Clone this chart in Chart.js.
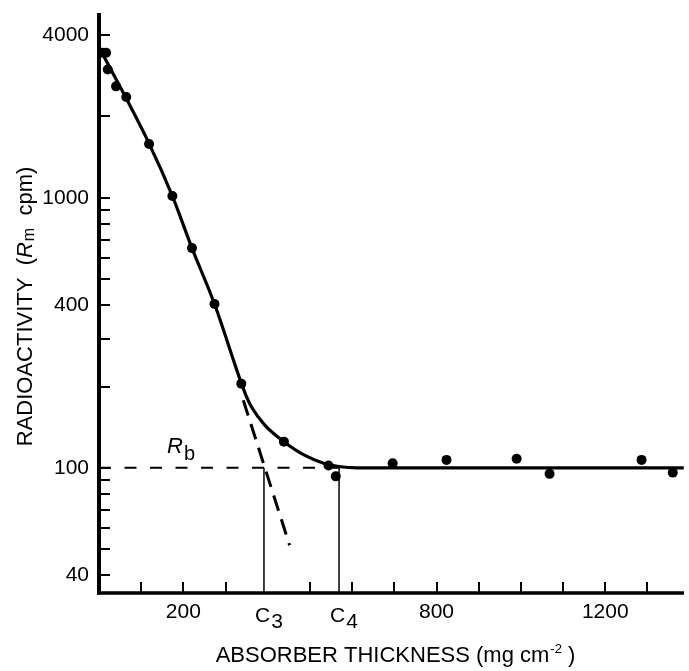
<!DOCTYPE html>
<html><head><meta charset="utf-8">
<script src="https://cdn.jsdelivr.net/npm/chart.js@4/dist/chart.umd.min.js"></script>
<style>html,body{margin:0;padding:0;background:#fff}#wrap{width:689px;height:671px;position:relative}</style>
</head><body><div id="wrap"><canvas id="c"></canvas></div>
<script>
// Measured points: absorber thickness (mg cm^-2) and count rate (cpm)
const thickness = [7.5, 16.9, 20.7, 40.4, 64.6, 118.7, 173.9, 220.4, 273.8, 337.3, 438.3, 544, 561.2, 696, 823.7, 989.9, 1068, 1286, 1360];
const counts    = [3444, 3444, 2985, 2585, 2360, 1581, 1015, 651, 404, 205, 125, 102, 93, 104, 107, 108, 95, 107, 96];
// Hand-drawn absorption curve
const curveX = [0, 118.7, 173.9, 220.4, 273.8, 337.3, 349.1, 361.5, 393, 438.3, 487, 534, 572.3, 612, 1386];
const curveY = [3614, 1587, 1015, 651, 404, 206, 184.3, 168, 144, 125, 111.4, 103.8, 100.9, 100, 100];
// Extrapolated beta part (dashed)
const extrapX = [342, 451.7];
const extrapY = [178, 51.7];
// Background level R_b
const bgLevel = 100;
const bgLineX = [0, 569];
// Ranges C3 and C4
const c3 = 391, c4 = 569;
// Axes
const xMin = 0, xMax = 1386.6;
const yMin = 34.4, yMax = 4831;
const yTickValues = [40, 50, 60, 70, 80, 90, 100, 200, 300, 400, 500, 600, 700, 800, 900, 1000, 2000, 4000];
const yTickLabels = [40, 100, 400, 1000, 4000];
const xTickValues = [100, 200, 300, 500, 600, 700, 800, 900, 1000, 1100, 1200, 1300];
const xTickLabels = [200, 800, 1200];

const F = '"Liberation Sans", Arial, Helvetica, sans-serif';
const BLACK = '#000';

const points = thickness.map((v, i) => ({x: v, y: counts[i]}));
const curve = curveX.map((v, i) => ({x: v, y: curveY[i]}));
const extrap = extrapX.map((v, i) => ({x: v, y: extrapY[i]}));
const bgLine = bgLineX.map(v => ({x: v, y: bgLevel}));
const c3Line = [{x: c3, y: bgLevel}, {x: c3, y: yMin}];
const c4Line = [{x: c4, y: bgLevel}, {x: c4, y: yMin}];

function drawParts(ctx, parts, x, base) {
  let cx = x;
  parts.forEach(p => {
    ctx.font = p.font;
    ctx.fillText(p.t, cx, base + (p.dy || 0));
    cx += ctx.measureText(p.t).width + (p.gap || 0);
  });
}
function partsWidth(ctx, parts) {
  let w = 0;
  parts.forEach(p => { ctx.font = p.font; w += ctx.measureText(p.t).width + (p.gap || 0); });
  return w;
}

const deco = {
  id: 'deco',
  afterDraw(chart) {
    const {ctx, chartArea: a, scales: {x, y}} = chart;
    ctx.save();
    ctx.strokeStyle = BLACK; ctx.fillStyle = BLACK;
    // axis lines
    ctx.lineWidth = 4;
    ctx.beginPath(); ctx.moveTo(a.left, a.top); ctx.lineTo(a.left, a.bottom + 1.5); ctx.stroke();
    ctx.lineWidth = 3.5;
    ctx.beginPath(); ctx.moveTo(a.left - 2, a.bottom); ctx.lineTo(a.right, a.bottom); ctx.stroke();
    // inward tick marks
    ctx.lineWidth = 2;
    y.ticks.forEach(t => {
      const py = Math.round(y.getPixelForValue(t.value));
      ctx.beginPath(); ctx.moveTo(a.left, py); ctx.lineTo(a.left + 11, py); ctx.stroke();
    });
    x.ticks.forEach(t => {
      const px = Math.round(x.getPixelForValue(t.value));
      ctx.beginPath(); ctx.moveTo(px, a.bottom); ctx.lineTo(px, a.bottom - 11); ctx.stroke();
    });
    ctx.textAlign = 'left'; ctx.textBaseline = 'alphabetic';
    // C3, C4 labels
    [[c3, '3'], [c4, '4']].forEach(([v, s]) => {
      const px = x.getPixelForValue(v) - 9;
      drawParts(ctx, [
        {t: 'C', font: '21px ' + F, gap: 1},
        {t: s, font: '21px ' + F, dy: 6.5}
      ], px, 621.5);
    });
    // R_b label
    drawParts(ctx, [
      {t: 'R', font: 'italic 22px ' + F, gap: 1},
      {t: 'b', font: '20px ' + F, dy: 7}
    ], 167, y.getPixelForValue(bgLevel) - 15);
    // x title
    const xt = [
      {t: 'ABSORBER THICKNESS (mg cm', font: '22px ' + F, gap: 1},
      {t: '-2', font: '13px ' + F, dy: -9},
      {t: ' )', font: '22px ' + F}
    ];
    drawParts(ctx, xt, 395.5 - partsWidth(ctx, xt) / 2, 661.5);
    // y title
    const yt = [
      {t: 'RADIOACTIVITY  (', font: '22px ' + F},
      {t: 'R', font: 'italic 22px ' + F, gap: 1},
      {t: 'm', font: '16px ' + F, dy: 2},
      {t: '  cpm)', font: '22px ' + F}
    ];
    ctx.translate(31.5, 306.5);
    ctx.rotate(-Math.PI / 2);
    drawParts(ctx, yt, -partsWidth(ctx, yt) / 2, 0);
    ctx.restore();
  }
};

new Chart(document.getElementById('c'), {
  type: 'scatter',
  data: {
    datasets: [
      {data: bgLine, showLine: true, borderColor: BLACK, borderWidth: 2, borderDash: [12, 13.5], pointRadius: 0, order: 5},
      {data: c3Line, showLine: true, borderColor: BLACK, borderWidth: 1.5, pointRadius: 0, order: 4},
      {data: c4Line, showLine: true, borderColor: BLACK, borderWidth: 1.5, pointRadius: 0, order: 4},
      {data: extrap, showLine: true, borderColor: BLACK, borderWidth: 3, borderDash: [16, 9], pointRadius: 0, order: 3},
      {data: curve, showLine: true, borderColor: BLACK, borderWidth: 3.2, cubicInterpolationMode: 'monotone', pointRadius: 0, order: 2},
      {data: points, showLine: false, backgroundColor: BLACK, borderColor: BLACK, pointRadius: 5, pointBorderWidth: 0, order: 1}
    ]
  },
  options: {
    responsive: true,
    maintainAspectRatio: false,
    animation: false,
    events: [],
    layout: {padding: {top: 13, right: 0, bottom: 0, left: 0}},
    plugins: {legend: {display: false}, tooltip: {enabled: false}, title: {display: false}},
    scales: {
      x: {
        type: 'linear', min: xMin, max: xMax,
        grid: {display: false, drawTicks: false},
        border: {display: false},
        afterBuildTicks: s => { s.ticks = xTickValues.map(v => ({value: v})); },
        afterFit: s => { s.height = 78; s.paddingLeft = 0; s.paddingRight = 0; },
        ticks: {
          autoSkip: false, maxRotation: 0, padding: 7, color: BLACK,
          font: {family: F, size: 21},
          callback: v => xTickLabels.includes(v) ? String(v) : ''
        }
      },
      y: {
        type: 'logarithmic', min: yMin, max: yMax,
        grid: {display: false, drawTicks: false},
        border: {display: false},
        afterBuildTicks: s => { s.ticks = yTickValues.map(v => ({value: v})); },
        afterFit: s => { s.width = 99; s.paddingTop = 0; s.paddingBottom = 0; },
        ticks: {
          autoSkip: false, padding: 10, color: BLACK,
          font: {family: F, size: 21},
          callback: v => yTickLabels.includes(v) ? String(v) : ''
        }
      }
    }
  },
  plugins: [deco]
});
</script>
</body></html>
